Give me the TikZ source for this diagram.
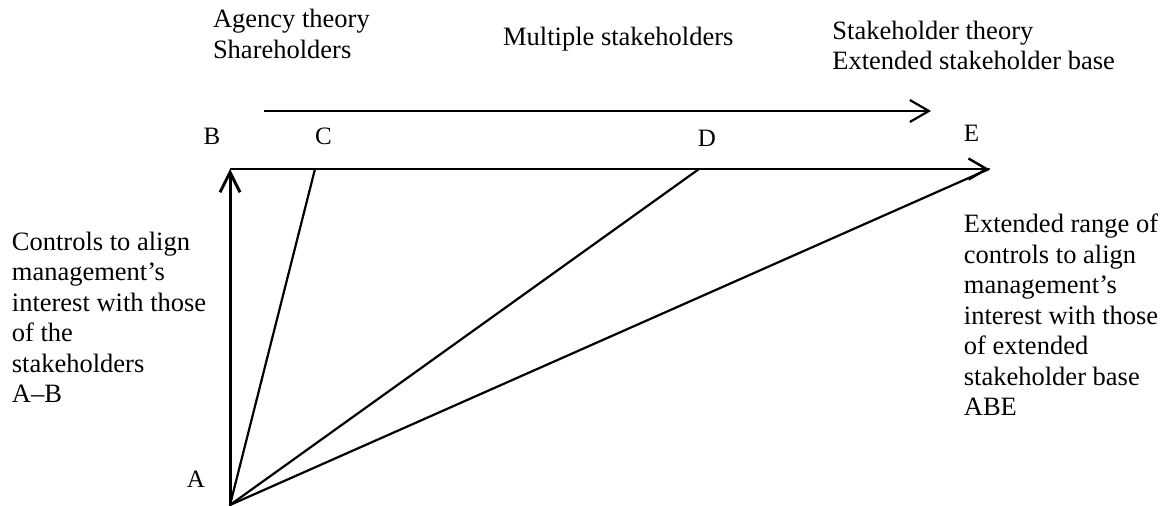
\documentclass[tikz,border=0pt]{standalone}
\usepackage{fontspec}
\setmainfont{Liberation Serif}
\usetikzlibrary{arrows.meta}
\begin{document}
\begin{tikzpicture}[x=0.5pt,y=-0.5pt,
  txt/.style={font=\fontsize{13.25pt}{15.25pt}\selectfont, inner sep=0pt, align=left, anchor=north west},
  lbl/.style={font=\fontsize{12.5pt}{14pt}\selectfont, inner sep=0pt, anchor=base},
  diag/.style={line width=1.1pt, line cap=round},
  vert/.style={line width=1.5pt, -{Straight Barb[length=10pt,width=10pt,line width=1.5pt]}},
  horiz/.style={line width=1.25pt, -{Straight Barb[length=9pt,width=10.5pt,line width=1.25pt]}},
  toparr/.style={line width=1.1pt, -{Straight Barb[length=9.5pt,width=11pt,line width=1.1pt]}}
]
\useasboundingbox (0,0) rectangle (1166,506);
% points
\coordinate (A) at (230,505);
\coordinate (B) at (230,169);
\coordinate (C) at (315,169);
\coordinate (D) at (699,169);
\coordinate (E) at (989,169);
\coordinate (T1) at (264,111);
\coordinate (T2) at (931,111);
% connectors
\draw[vert] (A) -- (B);
\draw[horiz] (B) -- (E);
\draw[toparr] (T1) -- (T2);
\draw[diag] (A) -- (C);
\draw[diag] (A) -- (D);
\draw[diag] (A) -- (E);
% letter labels
\node[lbl] (lA) at (196,488) {A};
\node[lbl] (lB) at (212,145) {B};
\node[lbl] (lC) at (323.5,145) {C};
\node[lbl] (lD) at (707,147) {D};
\node[lbl] (lE) at (971.5,142) {E};
% texts
\node[txt] (agency) at (212.6,9.2) {Agency theory\\Shareholders};
\node[txt] (multi) at (502.7,26.9) {Multiple stakeholders};
\node[txt] (stake) at (832,20.4) {Stakeholder theory\\Extended stakeholder base};
\node[txt] (left) at (11.5,231.4) {Controls to align\\management’s\\interest with those\\of the\\stakeholders\\A–B};
\node[txt] (right) at (963.5,213.9) {Extended range of\\controls to align\\management’s\\interest with those\\of extended\\stakeholder base\\ABE};
\end{tikzpicture}
\end{document}
